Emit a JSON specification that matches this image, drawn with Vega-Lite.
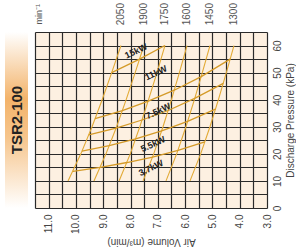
{
  "$schema": "https://vega.github.io/schema/vega-lite/v6.json",
  "padding": {"left": 5, "top": 3, "right": 2, "bottom": 2},
  "background": "white",
  "bounds": "flush",
  "spacing": 7,
  "config": {
    "font": "Liberation Sans",
    "view": {"stroke": null},
    "axis": {"labelFont": "Liberation Sans", "titleFont": "Liberation Sans", "labelColor": "#444", "titleColor": "#444", "labelFontSize": 10, "titleFontSize": 10, "titleFontWeight": "normal"}
  },
  "datasets": {
    "model": [{"name": "TSR2-100"}],
    "rpm": [
      {"rpm": 2050, "Q": 10.29, "P": 10}, {"rpm": 2050, "Q": 9.82, "P": 20}, {"rpm": 2050, "Q": 9.41, "P": 30}, {"rpm": 2050, "Q": 9.04, "P": 40}, {"rpm": 2050, "Q": 8.69, "P": 50}, {"rpm": 2050, "Q": 8.35, "P": 60},
      {"rpm": 1900, "Q": 9.34, "P": 10}, {"rpm": 1900, "Q": 8.90, "P": 20}, {"rpm": 1900, "Q": 8.51, "P": 30}, {"rpm": 1900, "Q": 8.16, "P": 40}, {"rpm": 1900, "Q": 7.83, "P": 50}, {"rpm": 1900, "Q": 7.51, "P": 60},
      {"rpm": 1750, "Q": 8.42, "P": 10}, {"rpm": 1750, "Q": 8.01, "P": 20}, {"rpm": 1750, "Q": 7.66, "P": 30}, {"rpm": 1750, "Q": 7.34, "P": 40}, {"rpm": 1750, "Q": 7.03, "P": 50}, {"rpm": 1750, "Q": 6.74, "P": 60},
      {"rpm": 1600, "Q": 7.54, "P": 10}, {"rpm": 1600, "Q": 7.15, "P": 20}, {"rpm": 1600, "Q": 6.81, "P": 30}, {"rpm": 1600, "Q": 6.50, "P": 40}, {"rpm": 1600, "Q": 6.21, "P": 50}, {"rpm": 1600, "Q": 5.93, "P": 60},
      {"rpm": 1450, "Q": 6.70, "P": 10}, {"rpm": 1450, "Q": 6.31, "P": 20}, {"rpm": 1450, "Q": 5.97, "P": 30}, {"rpm": 1450, "Q": 5.66, "P": 40}, {"rpm": 1450, "Q": 5.37, "P": 50}, {"rpm": 1450, "Q": 5.09, "P": 60},
      {"rpm": 1300, "Q": 5.82, "P": 10}, {"rpm": 1300, "Q": 5.43, "P": 20}, {"rpm": 1300, "Q": 5.09, "P": 30}, {"rpm": 1300, "Q": 4.78, "P": 40}, {"rpm": 1300, "Q": 4.49, "P": 50}, {"rpm": 1300, "Q": 4.21, "P": 60}
    ],
    "power": [
      {"kW": "3.7kW", "rpm": 2050, "Q": 10.11, "P": 13.5}, {"kW": "3.7kW", "rpm": 1900, "Q": 9.11, "P": 15}, {"kW": "3.7kW", "rpm": 1750, "Q": 8.13, "P": 16.8}, {"kW": "3.7kW", "rpm": 1600, "Q": 7.19, "P": 18.8}, {"kW": "3.7kW", "rpm": 1450, "Q": 6.26, "P": 21.3}, {"kW": "3.7kW", "rpm": 1300, "Q": 5.28, "P": 24.4},
      {"kW": "5.5kW", "rpm": 2050, "Q": 9.78, "P": 21}, {"kW": "5.5kW", "rpm": 1900, "Q": 8.78, "P": 23}, {"kW": "5.5kW", "rpm": 1750, "Q": 7.81, "P": 25.5}, {"kW": "5.5kW", "rpm": 1600, "Q": 6.86, "P": 28.5}, {"kW": "5.5kW", "rpm": 1450, "Q": 5.91, "P": 32}, {"kW": "5.5kW", "rpm": 1300, "Q": 4.89, "P": 36.5},
      {"kW": "7.5kW", "rpm": 2050, "Q": 9.53, "P": 27}, {"kW": "7.5kW", "rpm": 1900, "Q": 8.53, "P": 29.5}, {"kW": "7.5kW", "rpm": 1750, "Q": 7.58, "P": 32.5}, {"kW": "7.5kW", "rpm": 1600, "Q": 6.62, "P": 36}, {"kW": "7.5kW", "rpm": 1450, "Q": 5.65, "P": 40.5}, {"kW": "7.5kW", "rpm": 1300, "Q": 4.60, "P": 46},
      {"kW": "11kW", "rpm": 2050, "Q": 9.30, "P": 33}, {"kW": "11kW", "rpm": 1900, "Q": 8.30, "P": 36}, {"kW": "11kW", "rpm": 1750, "Q": 7.35, "P": 39.5}, {"kW": "11kW", "rpm": 1600, "Q": 6.40, "P": 43.5}, {"kW": "11kW", "rpm": 1450, "Q": 5.41, "P": 48.5}, {"kW": "11kW", "rpm": 1300, "Q": 4.35, "P": 55},
      {"kW": "15kW", "rpm": 2050, "Q": 8.69, "P": 50}, {"kW": "15kW", "rpm": 1900, "Q": 7.67, "P": 55}, {"kW": "15kW", "rpm": 1750, "Q": 6.74, "P": 60}
    ],
    "plabels": [
      {"kW": "15kW", "Q": 7.80, "P": 58.0},
      {"kW": "11kW", "Q": 7.07, "P": 49.9},
      {"kW": "7.5kW", "Q": 6.99, "P": 35.8},
      {"kW": "5.5kW", "Q": 7.18, "P": 23.6},
      {"kW": "3.7kW", "Q": 7.25, "P": 14.8}
    ],
    "unit": [{"label": "min⁻¹", "Q": 11.34}]
  },
  "hconcat": [
    {
      "width": 23,
      "height": 176,
      "data": {"name": "model"},
      "layer": [
        {
          "mark": {"type": "rect", "color": {"gradient": "linear", "x1": 0, "y1": 0, "x2": 0, "y2": 1, "stops": [{"offset": 0, "color": "#ffffff"}, {"offset": 0.38, "color": "#F3B36A"}, {"offset": 0.6, "color": "#F6C58C"}, {"offset": 1, "color": "#ffffff"}]}},
          "encoding": {}
        },
        {
          "mark": {"type": "text", "angle": 270, "fontSize": 15, "fontWeight": "bold", "color": "#222", "font": "Liberation Sans"},
          "encoding": {"text": {"field": "name", "type": "nominal"}}
        }
      ]
    },
    {
      "width": 232,
      "height": 176,
      "view": {"fill": "#FDF0E1", "stroke": null},
      "layer": [
        {
          "data": {"name": "rpm"},
          "mark": {"type": "line", "color": "#E2AA36", "strokeWidth": 1.1},
          "encoding": {
            "x": {"field": "Q", "type": "quantitative",
              "scale": {"domain": [3, 11.5], "reverse": true, "nice": false, "zero": false},
              "axis": {"values": [3, 3.5, 4, 4.5, 5, 5.5, 6, 6.5, 7, 7.5, 8, 8.5, 9, 9.5, 10, 10.5, 11, 11.5], "tickCount": 100,
                "labelExpr": "datum.value % 1 === 0 ? format(datum.value, '.1f') : ''",
                "labelAngle": 270, "labelOverlap": false, "labelFlush": false, "ticks": false, "domain": false,
                "grid": true, "gridColor": "#2a2a2a", "gridWidth": 1.2, "gridOpacity": 1,
                "labelPadding": 6, "title": "Air Volume (m³/min)", "titleAngle": 180, "titleBaseline": "bottom", "titlePadding": 3}},
            "y": {"field": "P", "type": "quantitative",
              "scale": {"domain": [0, 65], "nice": false, "zero": true},
              "axis": {"orient": "right", "values": [0, 5, 10, 15, 20, 25, 30, 35, 40, 45, 50, 55, 60, 65], "tickCount": 100,
                "labelExpr": "datum.value % 10 === 0 && datum.value <= 60 ? format(datum.value, 'd') : ''",
                "labelAngle": 270, "labelOverlap": false, "labelFlush": false, "ticks": false, "domain": false,
                "grid": true, "gridColor": "#2a2a2a", "gridWidth": 1.2, "gridOpacity": 1,
                "labelPadding": 5, "title": "Discharge Pressure (kPa)", "titleAngle": 270, "titleBaseline": "top", "titlePadding": 3}},
            "detail": {"field": "rpm", "type": "nominal"},
            "order": {"field": "P", "type": "quantitative"}
          }
        },
        {
          "data": {"name": "power"},
          "mark": {"type": "line", "color": "#D49A28", "strokeWidth": 1.3},
          "encoding": {
            "x": {"field": "Q", "type": "quantitative"},
            "y": {"field": "P", "type": "quantitative"},
            "detail": {"field": "kW", "type": "nominal"},
            "order": {"field": "rpm", "type": "quantitative", "sort": "descending"}
          }
        },
        {
          "data": {"name": "rpm"},
          "transform": [{"filter": "datum.P == 60"}],
          "mark": {"type": "text", "angle": 270, "fontSize": 10, "color": "#555", "font": "Liberation Sans"},
          "encoding": {
            "x": {"field": "Q", "type": "quantitative"},
            "y": {"datum": 71.6},
            "text": {"field": "rpm", "type": "nominal"}
          }
        },
        {
          "data": {"name": "unit"},
          "mark": {"type": "text", "angle": 270, "fontSize": 9, "color": "#555", "font": "Liberation Sans"},
          "encoding": {
            "x": {"field": "Q", "type": "quantitative"},
            "y": {"datum": 71.6},
            "text": {"field": "label", "type": "nominal"}
          }
        },
        {
          "data": {"name": "plabels"},
          "mark": {"type": "text", "angle": -25, "fontSize": 9, "fontWeight": "bold", "color": "#222", "font": "Liberation Sans"},
          "encoding": {
            "x": {"field": "Q", "type": "quantitative"},
            "y": {"field": "P", "type": "quantitative"},
            "text": {"field": "kW", "type": "nominal"}
          }
        }
      ]
    }
  ]
}
